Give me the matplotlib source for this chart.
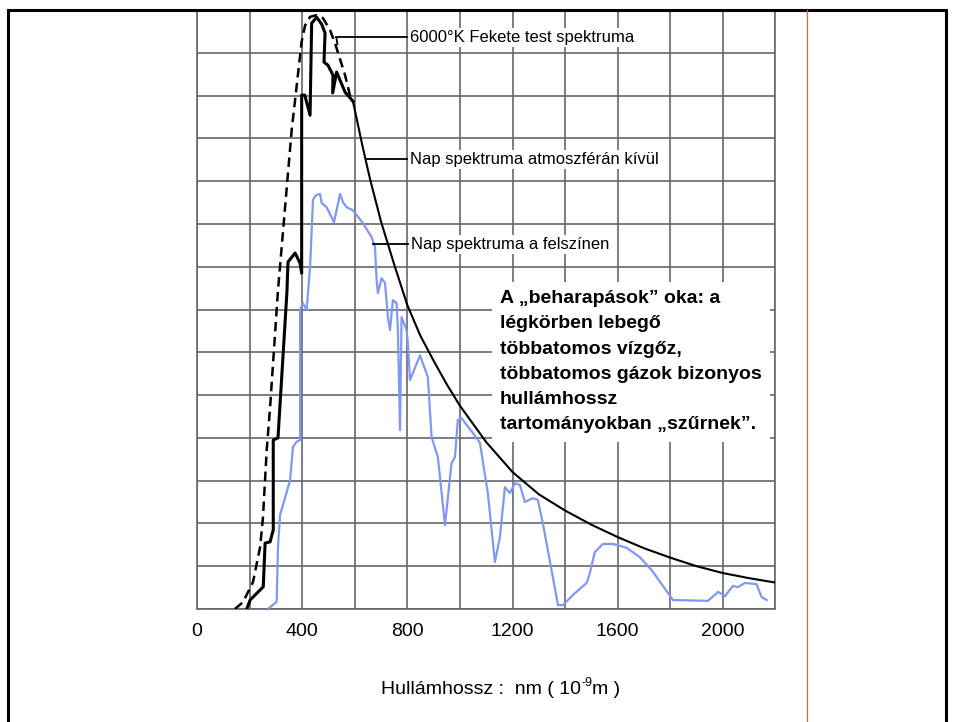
import matplotlib
matplotlib.use("Agg")
import matplotlib.pyplot as plt
from matplotlib.patches import Rectangle
from matplotlib.lines import Line2D

plt.rcParams['font.family'] = ['Liberation Sans', 'DejaVu Sans']

# 6000 K fekete test (szaggatott)
bb_nm = [144, 175, 213, 240, 251, 265, 278, 308, 360, 398, 411, 430, 455,
         479, 506, 525, 563, 588]
bb_val = [0, 0.16, 0.63, 1.45, 2.15, 3.71, 4.72, 7.45, 11.19, 13.26, 13.64,
          13.84, 13.88, 13.81, 13.53, 13.22, 12.48, 11.85]

# Nap spektruma atmoszferan kivul - a csucs kornyeke
sun_nm = [189, 202, 252, 259, 278, 290, 290, 308, 342, 346, 373, 392, 398,
          398, 410, 430, 436, 455, 474, 487, 483, 498, 517, 516, 531, 563, 593]
sun_val = [0, 0.21, 0.52, 1.54, 1.57, 1.85, 3.95, 4.0, 7.41, 8.11, 8.32, 8.08,
           7.85, 12.01, 12.01, 11.54, 13.69, 13.83, 13.67, 13.46, 12.78, 12.71,
           12.48, 12.06, 12.55, 12.08, 11.87]
# ... es a lecsengo resze
tail_nm = [593, 630, 658, 700, 750, 800, 850, 900, 950, 1000, 1100, 1200,
           1300, 1400, 1500, 1600, 1700, 1800, 1900, 2000, 2100, 2198]
tail_val = [11.87, 10.8, 10.05, 9.05, 8.05, 7.1, 6.38, 5.8, 5.25, 4.75, 3.9,
            3.2, 2.68, 2.3, 1.97, 1.68, 1.42, 1.2, 1.0, 0.84, 0.72, 0.62]

# Nap spektruma a felszinen
gr_nm = [270, 303, 308, 316, 354, 365, 379, 392, 392, 403, 417, 430, 441, 452,
         468, 474, 493, 521, 544, 555, 569, 593, 631, 664, 677, 683, 688, 702,
         715, 726, 734, 745, 759, 764, 772, 778, 797, 802, 810, 848, 878, 892,
         916, 943, 968, 981, 992, 1006, 1063, 1076, 1106, 1133, 1152, 1171,
         1190, 1209, 1228, 1247, 1277, 1296, 1315, 1373, 1392, 1430, 1482,
         1494, 1513, 1544, 1582, 1634, 1684, 1729, 1810, 1943, 1982, 2008,
         2038, 2057, 2084, 2128, 2147, 2166]
gr_val = [0, 0.17, 1.45, 2.20, 3.01, 3.79, 3.91, 3.95, 6.99, 7.15, 6.99, 7.99,
          9.56, 9.67, 9.70, 9.49, 9.39, 9.04, 9.70, 9.51, 9.39, 9.32, 9.02,
          8.69, 8.46, 7.69, 7.38, 7.73, 7.62, 6.82, 6.52, 7.22, 7.15, 6.52,
          4.18, 6.82, 6.52, 6.21, 5.35, 5.93, 5.42, 4.02, 3.55, 1.96, 3.41,
          3.55, 4.42, 4.46, 4.00, 3.88, 2.71, 1.10, 1.68, 2.85, 2.71, 2.94,
          2.90, 2.50, 2.59, 2.55, 2.01, 0.09, 0.09, 0.33, 0.61, 0.84, 1.33,
          1.52, 1.52, 1.43, 1.21, 0.91, 0.21, 0.19, 0.40, 0.30, 0.54, 0.51,
          0.61, 0.58, 0.28, 0.21]

x_ticks = [0, 400, 800, 1200, 1600, 2000]
x_minor = [200, 600, 1000, 1400, 1800, 2200]

W, H = 954, 722
fig = plt.figure(figsize=(W / 100, H / 100), dpi=100)
ax = fig.add_axes([197 / W, 1 - 609 / H, 578.5 / W, 599 / H])

grid_c = '#66666f'
ax.set_xlim(0, 2200)
ax.set_ylim(0, 14)
ax.set_xticks(x_ticks)
ax.set_xticks(x_minor, minor=True)
ax.set_yticks(range(15))
ax.set_yticklabels([])
ax.tick_params(axis='both', which='both', length=0)
ax.tick_params(axis='x', labelsize=14, pad=10)
ax.grid(True, which='both', color=grid_c, lw=1.2)
ax.set_axisbelow(True)
for s in ax.spines.values():
    s.set_color(grid_c)
    s.set_linewidth(1.2)

# gorbek
ax.plot(bb_nm, bb_val, color='black', lw=1.8, dashes=(3.8, 2.2), zorder=3)
ax.plot(sun_nm, sun_val, color='black', lw=2.2, zorder=3)
ax.plot(tail_nm, tail_val, color='black', lw=1.5, zorder=3)
ax.plot(gr_nm, gr_val, color='#8098f0', lw=1.6, zorder=3)

# feliratok vezetovonallal
def label(txt, x0, y0, x1, y1):
    ax.plot([x0, x1], [y0, y1], color='black', lw=1.3, zorder=3)
    ax.text(x1 + 10, y1, txt, fontsize=12, va='center', ha='left', zorder=4,
            bbox=dict(fc='white', ec='none', pad=1.5))

ax.plot([534, 530], [13.2, 13.36], color='black', lw=1.3, zorder=3)
label('6000°K Fekete test spektruma', 530, 13.36, 800, 13.36)
label('Nap spektruma atmoszférán kívül', 645, 10.51, 800, 10.51)
label('Nap spektruma a felszínen', 669, 8.53, 802, 8.53)

note = ('A \u201ebeharapások\u201d oka: a\n'
        'légkörben lebegő\n'
        'többatomos vízgőz,\n'
        'többatomos gázok bizonyos\n'
        'hullámhossz\n'
        'tartományokban \u201eszűrnek\u201d.')
ax.text(1152, 7.45, note, fontsize=14, fontweight='bold', va='top', ha='left',
        linespacing=1.63, zorder=2.5,
        bbox=dict(fc='white', ec='none', pad=6))

# tengelyfelirat, kis kotojeles kitevovel
t1 = fig.text(381 / W, 1 - 690 / H, 'Hullámhossz :  nm ( 10',
              fontsize=14, ha='left', va='center')
ax.annotate('-9', xy=(1, 1), xycoords=t1, xytext=(0.5, 3), textcoords='offset points',
            fontsize=9, ha='left', va='top', annotation_clip=False)
ax.annotate('m )', xy=(1, 0.5), xycoords=t1, xytext=(8, 0), textcoords='offset points',
            fontsize=14, ha='left', va='center', annotation_clip=False)

# dia keret es piros vonal
fig.add_artist(Rectangle((8 / W, -0.05), (946 - 8) / W, 1.05 - 10 / H,
                         transform=fig.transFigure, fill=False, ec='black',
                         lw=2.2))
fig.add_artist(Line2D([807 / W, 807 / W], [0, 1 - 10 / H],
                      transform=fig.transFigure, color='#f05a5a', lw=0.9))

fig.savefig('out.png', dpi=100)
